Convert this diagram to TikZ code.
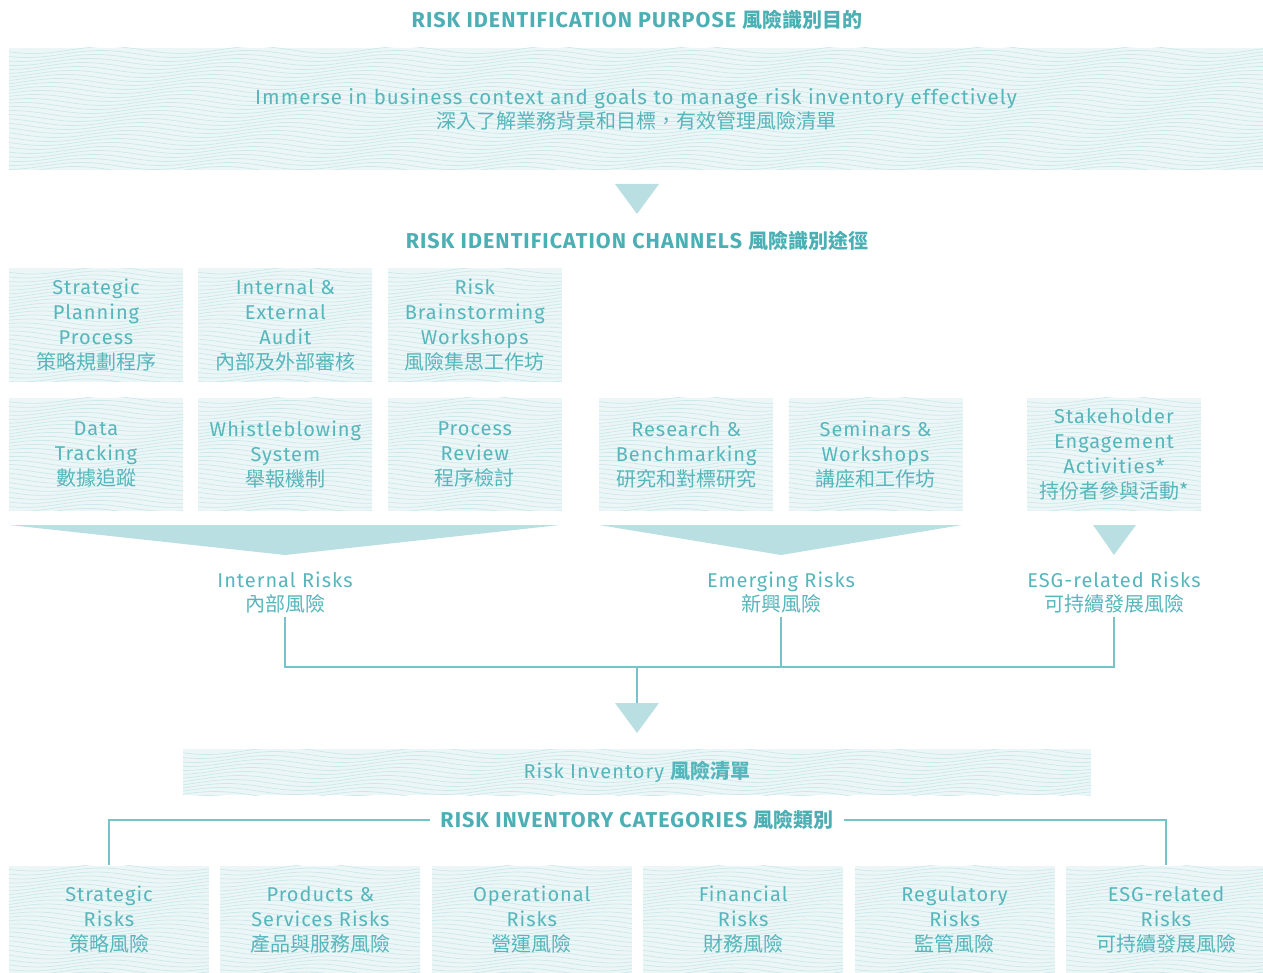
\documentclass[tikz,border=0pt]{standalone}
\usepackage{fontspec}
\setmainfont{Fira Sans}[LetterSpace=5]
\newfontfamily\cjk{Noto Sans CJK TC}
\usetikzlibrary{positioning}
\definecolor{riskteal}{RGB}{86,182,187}
\definecolor{headteal}{RGB}{76,175,180}
\definecolor{wavebg}{RGB}{236,246,247}
\definecolor{waveline}{RGB}{203,232,234}
\definecolor{funnelteal}{RGB}{186,223,226}
\definecolor{linkteal}{RGB}{118,196,200}
\newcommand{\zhtxt}[1]{{\cjk\fontsize{20}{25}\selectfont #1}}

\begin{document}
\begin{tikzpicture}[
  x=1pt, y=-1pt,
  wave/.style={draw=waveline, line width=0.7pt},
  wavy/.style={path picture={
    \foreach \k in {2,6,...,134} {
      \draw[wave] (path picture bounding box.north west) ++({-10-mod(1.5*\k,148)},\k)
        foreach \s in {1,...,#1} { sin ++(37,3.5) cos ++(37,-3.5) sin ++(37,-3.5) cos ++(37,3.5) };
    }}},
  chanbox/.style={rectangle, fill=wavebg, wavy=3,
               minimum width=174pt, minimum height=113pt, inner sep=0pt,
               align=center, text=riskteal, font=\fontsize{20}{25}\selectfont},
  catbox/.style={chanbox, minimum width=200pt, minimum height=109pt},
  banner/.style={chanbox, minimum width=1254pt, minimum height=122pt, wavy=10},
  headline/.style={text=headteal, font=\bfseries\fontsize{21.5}{25}\selectfont},
  risklabel/.style={text=riskteal, align=center, inner xsep=0pt, inner ysep=3pt,
               anchor=north, font=\fontsize{20}{24}\selectfont},
  funnel/.style={fill=funnelteal},
  link/.style={draw=linkteal, line width=1.3pt}
]
  \useasboundingbox (0,0) rectangle (1263,973);

  % purpose
  \node[headline] (purpose) at (637,20) {RISK IDENTIFICATION PURPOSE \zhtxt{風險識別目的}};
  \node[banner, font=\fontsize{20.5}{24}\selectfont] (goal) at (636,109)
    {Immerse in business context and goals to manage risk inventory effectively\\\zhtxt{深入了解業務背景和目標，有效管理風險清單}};
  \fill[funnel] (615,184) -- (659,184) -- (637,214) -- cycle;

  % channels
  \node[headline] (channels) at (637,241) {RISK IDENTIFICATION CHANNELS \zhtxt{風險識別途徑}};
  \node[chanbox] (plan) at (96,325) {Strategic\\Planning\\Process\\\zhtxt{策略規劃程序}};
  \node[chanbox, right=15pt of plan] (audit) {Internal \&\\External\\Audit\\\zhtxt{內部及外部審核}};
  \node[chanbox, right=15pt of audit] (brain) {Risk\\Brainstorming\\Workshops\\\zhtxt{風險集思工作坊}};
  \node[chanbox, below=16pt of plan] (track) {Data\\Tracking\\\zhtxt{數據追蹤}};
  \node[chanbox, right=15pt of track] (whistle) {Whistleblowing\\System\\\zhtxt{舉報機制}};
  \node[chanbox, right=15pt of whistle] (review) {Process\\Review\\\zhtxt{程序檢討}};
  \node[chanbox, right=37pt of review] (bench) {Research \&\\Benchmarking\\\zhtxt{研究和對標研究}};
  \node[chanbox, right=15pt of bench] (seminar) {Seminars \&\\Workshops\\\zhtxt{講座和工作坊}};
  \node[chanbox, right=64pt of seminar] (stake) {Stakeholder\\Engagement\\Activities*\\\zhtxt{持份者參與活動*}};

  \fill[funnel] (9,525) -- (560,525) -- (285,555) -- cycle;
  \fill[funnel] (599,525) -- (962,525) -- (781,555) -- cycle;
  \fill[funnel] (1093,525) -- (1136,525) -- (1114,555) -- cycle;

  \node[risklabel] (int) at (285,569) {Internal Risks\\\zhtxt{內部風險}};
  \node[risklabel] (emg) at (781,569) {Emerging Risks\\\zhtxt{新興風險}};
  \node[risklabel] (esg) at (1114,569) {ESG-related Risks\\\zhtxt{可持續發展風險}};

  \coordinate (bus) at (637,667);
  \coordinate (invtip) at (637,703);
  \draw[link] (int.south) |- (bus) -| (esg.south);
  \draw[link] (emg.south) -- (emg.south |- bus);
  \draw[link] (bus) -- (invtip);
  \fill[funnel] (615,703) -- (659,703) -- (637,733) -- cycle;

  % inventory
  \node[banner, minimum width=908pt, minimum height=46pt, wavy=8] (inventory) at (637,772)
    {Risk Inventory {\bfseries\zhtxt{風險清單}}};
  \node[headline, inner xsep=10pt] (cattitle) at (637,820) {RISK INVENTORY CATEGORIES \zhtxt{風險類別}};

  \node[catbox] (strat) at (109,920) {Strategic\\Risks\\\zhtxt{策略風險}};
  \node[catbox, right=11pt of strat] (prod) {Products \&\\Services Risks\\\zhtxt{產品與服務風險}};
  \node[catbox, right=11pt of prod] (oper) {Operational\\Risks\\\zhtxt{營運風險}};
  \node[catbox, right=11pt of oper] (fin) {Financial\\Risks\\\zhtxt{財務風險}};
  \node[catbox, right=11pt of fin] (reg) {Regulatory\\Risks\\\zhtxt{監管風險}};
  \node[catbox, right=11pt of reg] (esgcat) {ESG-related\\Risks\\\zhtxt{可持續發展風險}};

  \draw[link] (cattitle.west) -| (strat.north);
  \draw[link] (cattitle.east) -| (esgcat.north);
\end{tikzpicture}
\end{document}
